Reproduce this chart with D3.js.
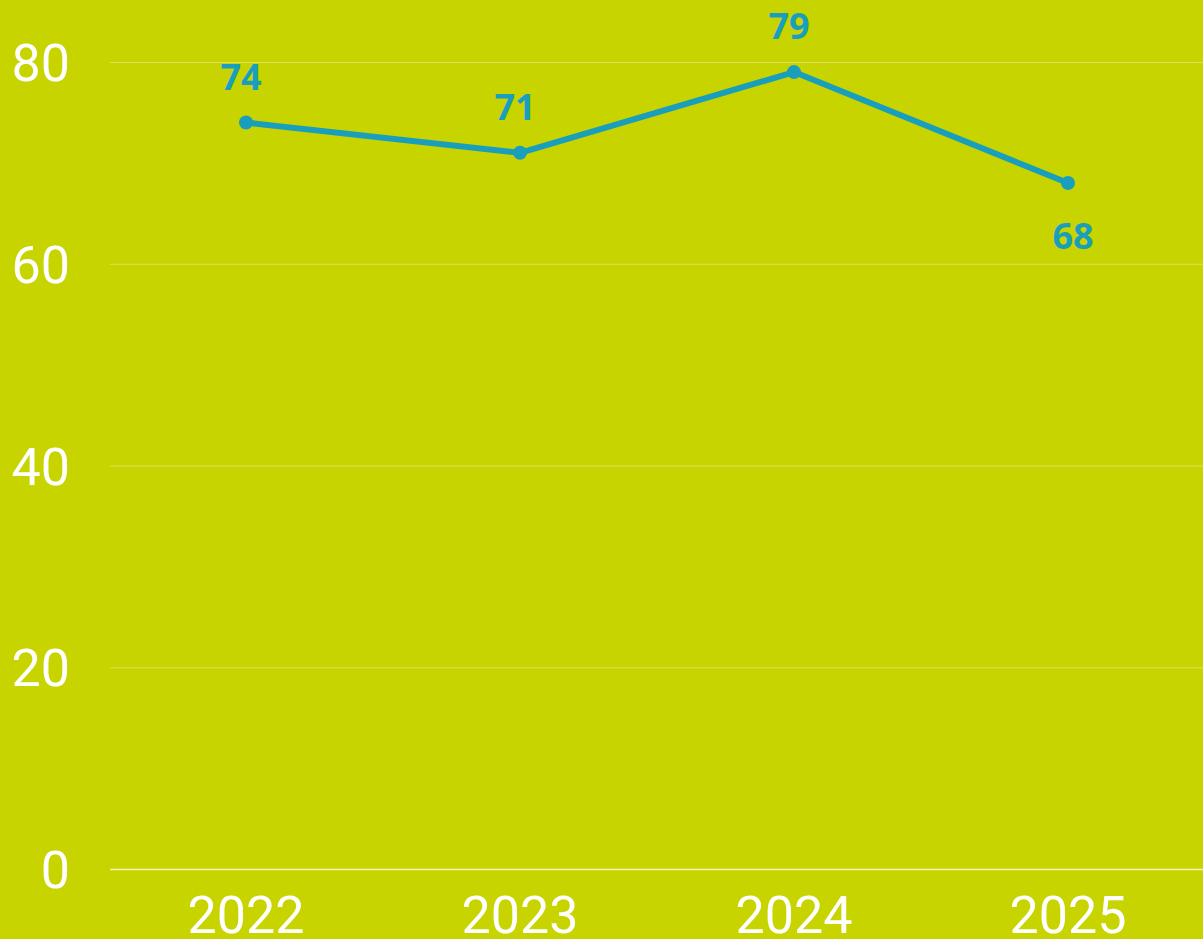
<!DOCTYPE html>
<html><head><meta charset="utf-8">
<script src="https://cdn.jsdelivr.net/npm/d3@7"></script>
<style>html,body{margin:0;padding:0;background:#c8d400;}svg{display:block;}</style>
</head><body>
<script>
const years = ["2022","2023","2024","2025"];
const values = [74, 71, 79, 68];
const yTicks = [0, 20, 40, 60, 80];
const labelAbove = [true, true, true, false];

const W = 1203, H = 939;
const svg = d3.select("body").append("svg").attr("width", W).attr("height", H);
svg.append("rect").attr("width", W).attr("height", H).attr("fill", "#c8d400");

const x = d3.scaleBand().domain(years).range([109, 1205]);
const y = d3.scaleLinear().domain([0, 80]).range([869, 62]);

// gridlines
svg.append("g").selectAll("line").data(yTicks).join("line")
  .attr("x1", 110).attr("x2", W)
  .attr("y1", d => y(d) + 0.5).attr("y2", d => y(d) + 0.5)
  .attr("stroke", d => d === 0 ? "rgba(255,255,255,0.75)" : "rgba(255,255,255,0.35)")
  .attr("stroke-width", d => d === 0 ? 1.5 : 1);

// y labels
svg.append("g").selectAll("text").data(yTicks).join("text")
  .attr("x", 70).attr("y", d => y(d) + 19)
  .attr("text-anchor", "end")
  .attr("fill", "#ffffff")
  .attr("font-family", "Roboto")
  .attr("font-weight", 400)
  .attr("font-size", 52)
  .text(d => d);

// x labels
svg.append("g").selectAll("text").data(years).join("text")
  .attr("x", d => x(d) + x.bandwidth() / 2).attr("y", 933)
  .attr("text-anchor", "middle")
  .attr("fill", "#ffffff")
  .attr("font-family", "Roboto")
  .attr("font-weight", 400)
  .attr("font-size", 52)
  .text(d => d);

const pts = years.map((yr, i) => ({yr, v: values[i], above: labelAbove[i]}));
const line = d3.line().x(d => x(d.yr) + x.bandwidth() / 2).y(d => y(d.v));
svg.append("path").datum(pts).attr("d", line)
  .attr("fill", "none").attr("stroke", "#199fbb").attr("stroke-width", 6)
  .attr("stroke-linejoin", "round");

svg.append("g").selectAll("circle").data(pts).join("circle")
  .attr("cx", d => x(d.yr) + x.bandwidth() / 2).attr("cy", d => y(d.v))
  .attr("r", 7).attr("fill", "#199fbb");

svg.append("g").selectAll("text").data(pts).join("text")
  .attr("x", d => x(d.yr) + x.bandwidth() / 2 + (d.above ? -5 : 5))
  .attr("y", d => y(d.v) + (d.above ? -33 : 66))
  .attr("text-anchor", "middle")
  .attr("fill", "#199fbb")
  .attr("font-family", "Open Sans")
  .attr("font-weight", 700)
  .attr("font-size", 36)
  .text(d => d.v);
</script>
</body></html>
